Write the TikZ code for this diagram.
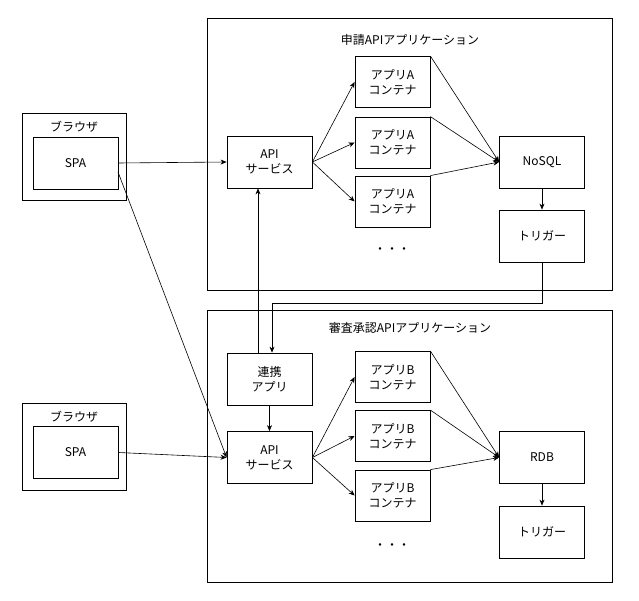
\documentclass[tikz,border=0pt]{standalone}
\usepackage{fontspec}
\setmainfont{Noto Sans CJK JP}
\usetikzlibrary{arrows.meta}
\tikzset{
  bx/.style={draw,thick,line width=0.8pt,minimum width=85pt,minimum height=52pt,align=center,inner sep=1pt,font=\fontsize{12}{15}\selectfont},
  cx/.style={bx,minimum width=75pt,minimum height=51pt},
  big/.style={draw,line width=0.8pt},
  ar/.style={-{Stealth[length=6pt,width=5pt]},line width=0.6pt},
  lb/.style={font=\fontsize{12}{14}\selectfont}
}
\begin{document}
\begin{tikzpicture}[x=1pt,y=-1pt]
\useasboundingbox (0,0) rectangle (639,601);
% big boxes
\draw[big] (207,18) rectangle (612,290);
\node[lb] (t1) at (410,40) {申請APIアプリケーション};
\draw[big] (207,310) rectangle (612,582);
\node[lb] (t2) at (410,328) {審査承認APIアプリケーション};
% browsers
\draw[big] (22,113) rectangle (126,200);
\node[lb] (b1) at (74,127) {ブラウザ};
\node[bx] (spa1) at (75.5,163) {SPA};
\draw[big] (22,403) rectangle (126,490);
\node[lb] (b2) at (74,417) {ブラウザ};
\node[bx] (spa2) at (75.5,452.5) {SPA};
% top app
\node[bx] (api1) at (269.5,162) {API\\サービス};
\node[cx] (a1) at (392.5,82) {アプリA\\コンテナ};
\node[cx] (a2) at (392.5,142.5) {アプリA\\コンテナ};
\node[cx] (a3) at (392.5,201.5) {アプリA\\コンテナ};
\node[lb] (d1) at (392,251) {・\\[-4pt]・\\[-4pt]・};
\node[bx] (nosql) at (542,162) {NoSQL};
\node[bx] (trg1) at (542,236) {トリガー};
% bottom app
\node[bx] (ren) at (269.5,379) {連携\\アプリ};
\node[bx] (api2) at (269.5,457.5) {API\\サービス};
\node[cx] (b1c) at (392.5,377) {アプリB\\コンテナ};
\node[cx] (b2c) at (392.5,436) {アプリB\\コンテナ};
\node[cx] (b3c) at (392.5,495.5) {アプリB\\コンテナ};
\node[lb] (d2) at (392,547) {・\\[-4pt]・\\[-4pt]・};
\node[bx] (rdb) at (542,457.5) {RDB};
\node[bx] (trg2) at (542,532) {トリガー};
% arrows
\draw[ar] (spa1.east) -- (api1.west);
\draw[ar] (118,172) -- (api2.west);
\draw[ar] (spa2.east) -- (api2.west);
\foreach \c in {a1,a2,a3} {\draw[ar] (api1.east) -- (\c.west); \draw[ar] (\c.north east) -- (nosql.west);}
\foreach \c in {b1c,b2c,b3c} {\draw[ar] (api2.east) -- (\c.west); \draw[ar] (\c.north east) -- (rdb.west);}
\draw[ar] (nosql) -- (trg1);
\draw[ar] (rdb) -- (trg2);
\draw[ar] (trg1.south) -- (542,303) -- (272,303) -- (ren.north -| 272,0);
\draw[ar] (ren.north -| 258,0) -- (api1.south -| 258,0);
\draw[ar] (ren) -- (api2);
\end{tikzpicture}
\end{document}
